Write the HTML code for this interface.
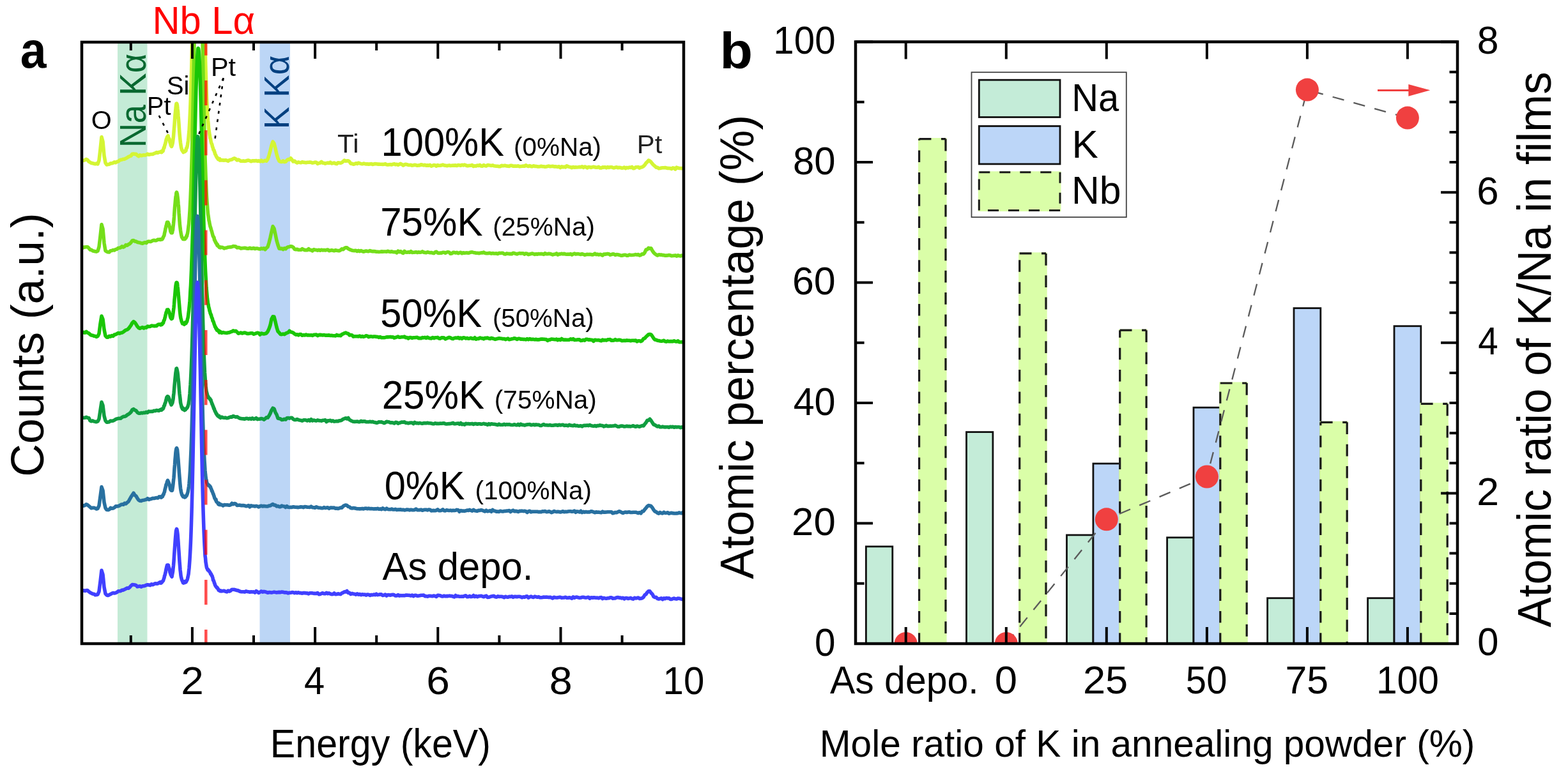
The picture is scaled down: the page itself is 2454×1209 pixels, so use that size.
<!DOCTYPE html>
<html><head><meta charset="utf-8"><title>Figure</title>
<style>
html,body{margin:0;padding:0;background:#fff;}
svg{display:block;}
text{font-family:"Liberation Sans",Arial,Helvetica,sans-serif;}
</style></head>
<body>
<svg width="2454" height="1209" viewBox="0 0 2454 1209">
<rect width="2454" height="1209" fill="#fff"/>
<rect x="184" y="66" width="46.5" height="942" fill="#c4ebd6"/>
<rect x="406.5" y="66" width="47.5" height="942" fill="#bcd6f6"/>
<defs><clipPath id="ca"><rect x="128" y="66" width="942" height="942"/></clipPath></defs>
<g clip-path="url(#ca)" fill="none" stroke-width="5.6" stroke-linejoin="round" stroke-linecap="round">
<path d="M127.0,250.8 L129.0,251.5 L131.0,251.2 L133.0,250.6 L135.0,249.4 L137.0,250.4 L139.0,253.0 L141.0,254.1 L143.0,255.5 L145.0,255.6 L147.0,256.3 L149.0,256.8 L151.0,256.0 L153.0,256.9 L155.0,251.2 L157.0,233.9 L159.0,214.5 L161.0,221.8 L163.0,243.7 L165.0,255.1 L167.0,257.9 L169.0,257.6 L171.0,257.3 L173.0,255.9 L175.0,255.8 L177.0,255.1 L179.0,253.8 L181.0,254.6 L183.0,253.2 L185.0,252.9 L187.0,251.1 L189.0,250.3 L191.0,249.9 L193.0,249.3 L195.0,249.1 L197.0,248.1 L199.0,246.9 L201.0,245.6 L203.0,244.7 L205.0,244.0 L207.0,241.2 L209.0,240.9 L211.0,241.4 L213.0,241.3 L215.0,243.4 L217.0,244.7 L219.0,242.8 L221.0,243.6 L223.0,243.4 L225.0,242.7 L227.0,243.1 L229.0,242.4 L231.0,241.1 L233.0,242.2 L235.0,241.7 L237.0,241.5 L239.0,241.4 L241.0,240.4 L243.0,239.9 L245.0,238.6 L247.0,239.4 L249.0,238.3 L251.0,238.1 L251.5,237.5 L252.0,237.6 L252.5,237.7 L253.0,238.6 L253.5,236.3 L254.0,236.3 L254.5,236.8 L255.0,236.8 L255.5,235.4 L256.0,232.8 L256.5,231.2 L257.0,231.4 L257.5,229.0 L258.0,226.8 L258.5,226.0 L259.0,223.9 L259.5,221.2 L260.0,219.2 L260.5,217.4 L261.0,216.5 L261.5,214.7 L262.0,213.9 L262.5,213.7 L263.0,212.6 L263.5,215.1 L264.0,216.0 L264.5,217.3 L265.0,217.6 L265.5,220.3 L266.0,223.2 L266.5,223.4 L267.0,226.0 L267.5,228.0 L268.0,227.5 L268.5,229.5 L269.0,228.4 L269.5,226.8 L270.0,225.0 L270.5,222.2 L271.0,218.0 L271.5,213.9 L272.0,207.2 L272.5,201.1 L273.0,195.3 L273.5,187.8 L274.0,180.5 L274.5,175.4 L275.0,170.5 L275.5,165.3 L276.0,162.2 L276.5,162.1 L277.0,162.9 L277.5,165.4 L278.0,170.5 L278.5,174.3 L279.0,181.9 L279.5,187.1 L280.0,194.3 L280.5,202.0 L281.0,208.8 L281.5,214.5 L282.0,219.3 L282.5,223.6 L283.0,227.2 L283.5,230.4 L284.0,232.2 L284.5,234.2 L285.0,235.6 L285.5,236.1 L286.0,237.2 L286.5,237.4 L287.0,238.5 L287.5,237.5 L288.0,237.0 L288.5,236.9 L289.0,236.9 L289.5,237.2 L290.0,236.0 L290.5,235.9 L291.0,236.0 L291.5,232.4 L292.0,232.1 L292.5,231.4 L293.0,229.5 L293.5,227.0 L294.0,223.6 L294.5,220.6 L295.0,215.8 L295.5,210.0 L296.0,205.3 L296.5,196.3 L297.0,186.7 L297.5,176.4 L298.0,164.2 L298.5,150.2 L299.0,132.7 L299.5,116.1 L300.0,96.9 L300.5,73.4 L301.0,49.7 L301.5,23.9 L302.0,-4.6 L302.5,-34.6 L303.0,-68.5 L303.5,-101.0 L304.0,-135.4 L304.5,-169.9 L305.0,-204.8 L305.5,-242.0 L306.0,-273.8 L306.5,-308.1 L307.0,-337.6 L307.5,-367.2 L308.0,-391.5 L308.5,-412.7 L309.0,-431.4 L309.5,-444.8 L310.0,-453.5 L310.5,-458.2 L311.0,-457.8 L311.5,-451.5 L312.0,-441.8 L312.5,-428.1 L313.0,-407.6 L313.5,-387.5 L314.0,-360.4 L314.5,-332.5 L315.0,-301.2 L315.5,-268.1 L316.0,-234.5 L316.5,-199.6 L317.0,-166.2 L317.5,-131.8 L318.0,-96.9 L318.5,-65.5 L319.0,-34.6 L319.5,-5.7 L320.0,23.1 L320.5,47.8 L321.0,71.2 L321.5,90.5 L322.0,109.6 L322.5,125.4 L323.0,141.1 L323.5,154.3 L324.0,163.8 L324.5,174.7 L325.0,182.4 L325.5,188.6 L326.0,193.4 L326.5,200.4 L327.0,203.8 L327.5,207.1 L328.0,210.8 L328.5,213.6 L329.0,216.7 L329.5,217.4 L330.0,220.8 L330.5,222.9 L331.0,224.8 L331.5,225.6 L332.0,226.9 L332.5,229.7 L333.0,230.7 L333.5,232.3 L334.0,234.6 L334.5,235.1 L335.0,235.3 L335.5,237.8 L336.0,238.2 L336.5,241.0 L337.0,241.9 L337.5,242.4 L338.0,243.7 L338.5,245.1 L339.0,245.5 L339.5,246.9 L340.0,246.8 L340.5,248.0 L341.0,248.8 L341.5,249.4 L342.0,248.4 L342.5,249.8 L343.0,248.5 L343.5,249.2 L344.0,249.0 L344.5,251.1 L345.0,249.9 L347.0,250.9 L349.0,250.9 L351.0,251.1 L353.0,250.8 L355.0,251.3 L357.0,252.1 L359.0,250.7 L361.0,250.3 L363.0,249.8 L365.0,248.5 L367.0,247.9 L369.0,249.0 L371.0,250.9 L373.0,250.1 L375.0,251.1 L377.0,252.3 L379.0,252.3 L381.0,251.9 L383.0,252.4 L385.0,252.1 L387.0,251.3 L389.0,251.1 L391.0,251.8 L393.0,252.7 L395.0,251.9 L397.0,251.7 L399.0,251.9 L401.0,251.5 L403.0,252.4 L405.0,251.8 L407.0,252.8 L409.0,251.2 L411.0,252.8 L413.0,252.3 L415.0,251.3 L417.0,252.2 L419.0,249.4 L421.0,243.3 L423.0,235.9 L425.0,227.7 L427.0,222.0 L429.0,224.7 L431.0,232.4 L433.0,241.5 L435.0,248.1 L437.0,252.2 L439.0,253.2 L441.0,253.5 L443.0,252.0 L445.0,253.6 L447.0,253.2 L449.0,251.1 L451.0,249.6 L453.0,250.0 L455.0,247.8 L457.0,250.3 L459.0,253.0 L461.0,252.2 L463.0,253.9 L465.0,255.0 L467.0,253.9 L469.0,254.4 L471.0,254.7 L473.0,253.6 L475.0,254.2 L477.0,254.4 L479.0,254.8 L481.0,254.3 L483.0,254.3 L485.0,253.9 L487.0,254.3 L489.0,255.1 L491.0,254.7 L493.0,254.1 L495.0,254.2 L497.0,256.4 L499.0,255.5 L501.0,255.2 L503.0,253.4 L505.0,255.3 L507.0,255.3 L509.0,256.1 L511.0,255.4 L513.0,255.1 L515.0,255.5 L517.0,254.1 L519.0,255.9 L521.0,255.5 L523.0,255.0 L525.0,256.2 L527.0,256.6 L529.0,254.7 L531.0,255.0 L533.0,255.3 L535.0,254.5 L537.0,252.9 L539.0,251.1 L541.0,252.2 L543.0,251.9 L545.0,251.8 L547.0,253.2 L549.0,256.2 L551.0,256.4 L553.0,257.2 L555.0,256.7 L557.0,255.7 L559.0,256.4 L561.0,255.0 L563.0,255.9 L565.0,256.4 L567.0,256.8 L569.0,256.1 L571.0,256.5 L573.0,256.9 L575.0,256.9 L577.0,257.1 L579.0,256.9 L581.0,256.6 L583.0,257.4 L585.0,257.0 L587.0,256.5 L589.0,256.7 L591.0,257.1 L593.0,257.1 L595.0,257.3 L597.0,257.2 L599.0,257.4 L601.0,257.3 L603.0,256.6 L605.0,257.7 L607.0,258.1 L609.0,257.8 L611.0,257.5 L613.0,257.9 L615.0,257.1 L617.0,256.6 L619.0,257.8 L621.0,257.3 L623.0,258.3 L625.0,257.3 L627.0,256.4 L629.0,257.4 L631.0,259.0 L633.0,257.8 L635.0,257.3 L637.0,257.7 L639.0,258.4 L641.0,258.5 L643.0,258.3 L645.0,259.1 L647.0,258.7 L649.0,258.2 L651.0,258.6 L653.0,259.3 L655.0,258.9 L657.0,259.0 L659.0,257.7 L661.0,258.3 L663.0,258.9 L665.0,258.3 L667.0,259.1 L669.0,258.9 L671.0,259.1 L673.0,258.4 L675.0,260.1 L677.0,259.4 L679.0,258.5 L681.0,258.7 L683.0,260.2 L685.0,258.5 L687.0,259.3 L689.0,259.3 L691.0,258.8 L693.0,258.1 L695.0,258.9 L697.0,259.1 L699.0,259.6 L701.0,259.4 L703.0,258.9 L705.0,259.5 L707.0,259.3 L709.0,259.1 L711.0,259.1 L713.0,258.9 L715.0,259.5 L717.0,258.5 L719.0,258.8 L721.0,259.2 L723.0,258.3 L725.0,258.9 L727.0,258.0 L729.0,258.8 L731.0,259.6 L733.0,259.6 L735.0,259.3 L737.0,259.2 L739.0,258.5 L741.0,260.5 L743.0,259.7 L745.0,260.1 L747.0,259.0 L749.0,259.4 L751.0,258.4 L753.0,260.0 L755.0,260.1 L757.0,258.5 L759.0,259.6 L761.0,260.0 L763.0,258.6 L765.0,258.6 L767.0,259.1 L769.0,259.4 L771.0,258.9 L773.0,259.8 L775.0,260.0 L777.0,260.2 L779.0,260.3 L781.0,260.8 L783.0,260.6 L785.0,259.2 L787.0,259.7 L789.0,259.4 L791.0,259.4 L793.0,260.0 L795.0,260.1 L797.0,260.4 L799.0,259.2 L801.0,259.4 L803.0,260.2 L805.0,260.1 L807.0,260.0 L809.0,260.2 L811.0,259.8 L813.0,260.7 L815.0,260.5 L817.0,260.3 L819.0,260.0 L821.0,260.3 L823.0,258.8 L825.0,259.9 L827.0,260.5 L829.0,259.6 L831.0,260.6 L833.0,260.6 L835.0,259.7 L837.0,260.5 L839.0,260.4 L841.0,260.9 L843.0,261.0 L845.0,260.7 L847.0,260.2 L849.0,260.7 L851.0,260.7 L853.0,261.2 L855.0,261.0 L857.0,260.4 L859.0,260.1 L861.0,260.7 L863.0,260.5 L865.0,260.3 L867.0,260.9 L869.0,260.7 L871.0,261.1 L873.0,261.4 L875.0,260.8 L877.0,262.5 L879.0,260.9 L881.0,261.8 L883.0,261.2 L885.0,261.9 L887.0,259.8 L889.0,260.8 L891.0,261.4 L893.0,261.7 L895.0,262.7 L897.0,261.5 L899.0,262.1 L901.0,261.9 L903.0,262.0 L905.0,261.8 L907.0,261.4 L909.0,261.8 L911.0,260.9 L913.0,262.3 L915.0,261.0 L917.0,261.7 L919.0,262.9 L921.0,261.5 L923.0,261.7 L925.0,262.4 L927.0,261.7 L929.0,261.3 L931.0,261.9 L933.0,262.1 L935.0,262.2 L937.0,261.4 L939.0,262.9 L941.0,262.9 L943.0,261.9 L945.0,262.1 L947.0,261.7 L949.0,262.8 L951.0,261.6 L953.0,262.4 L955.0,261.8 L957.0,261.7 L959.0,262.5 L961.0,262.9 L963.0,262.2 L965.0,261.8 L967.0,262.7 L969.0,262.2 L971.0,262.5 L973.0,263.2 L975.0,263.0 L977.0,262.0 L979.0,263.7 L981.0,262.4 L983.0,262.9 L985.0,262.1 L987.0,262.4 L989.0,261.4 L991.0,263.6 L993.0,263.4 L995.0,261.8 L997.0,261.7 L999.0,261.6 L1001.0,263.2 L1003.0,262.0 L1005.0,261.7 L1007.0,260.4 L1009.0,258.5 L1011.0,255.4 L1013.0,253.6 L1015.0,251.2 L1017.0,252.0 L1019.0,253.9 L1021.0,256.5 L1023.0,258.6 L1025.0,260.2 L1027.0,262.1 L1029.0,262.3 L1031.0,263.8 L1033.0,263.5 L1035.0,263.0 L1037.0,262.8 L1039.0,262.7 L1041.0,262.6 L1043.0,263.0 L1045.0,263.4 L1047.0,263.5 L1049.0,263.6 L1051.0,264.5 L1053.0,262.9 L1055.0,263.3 L1057.0,265.0 L1059.0,262.2 L1061.0,263.1 L1063.0,263.5 L1065.0,263.5 L1067.0,263.7 L1069.0,263.3 L1071.0,263.7" stroke="#d4f534"/>
<path d="M127.0,387.8 L129.0,388.5 L131.0,387.0 L133.0,387.1 L135.0,386.8 L137.0,386.7 L139.0,388.5 L141.0,391.1 L143.0,391.3 L145.0,392.7 L147.0,393.3 L149.0,393.7 L151.0,394.1 L153.0,393.1 L155.0,386.7 L157.0,369.8 L159.0,351.6 L161.0,358.5 L163.0,380.6 L165.0,392.6 L167.0,394.0 L169.0,394.8 L171.0,394.9 L173.0,392.7 L175.0,392.5 L177.0,391.6 L179.0,391.9 L181.0,390.5 L183.0,390.2 L185.0,388.5 L187.0,388.3 L189.0,387.6 L191.0,385.8 L193.0,387.1 L195.0,386.0 L197.0,383.7 L199.0,384.3 L201.0,382.8 L203.0,381.7 L205.0,379.7 L207.0,376.7 L209.0,376.5 L211.0,377.9 L213.0,378.1 L215.0,379.2 L217.0,379.8 L219.0,380.1 L221.0,380.8 L223.0,381.3 L225.0,380.2 L227.0,379.7 L229.0,380.5 L231.0,378.5 L233.0,378.1 L235.0,378.4 L237.0,378.0 L239.0,376.7 L241.0,376.3 L243.0,376.8 L245.0,376.4 L247.0,375.1 L249.0,375.3 L251.0,374.8 L251.5,375.4 L252.0,374.9 L252.5,374.8 L253.0,374.4 L253.5,374.9 L254.0,374.7 L254.5,373.0 L255.0,373.0 L255.5,371.1 L256.0,370.5 L256.5,369.5 L257.0,368.3 L257.5,365.2 L258.0,363.3 L258.5,361.3 L259.0,357.9 L259.5,356.5 L260.0,353.8 L260.5,352.5 L261.0,349.9 L261.5,348.0 L262.0,348.4 L262.5,348.3 L263.0,348.1 L263.5,349.7 L264.0,350.3 L264.5,351.7 L265.0,354.3 L265.5,355.2 L266.0,357.8 L266.5,360.3 L267.0,362.6 L267.5,363.5 L268.0,364.7 L268.5,364.5 L269.0,364.8 L269.5,364.6 L270.0,361.3 L270.5,360.3 L271.0,354.8 L271.5,350.6 L272.0,345.2 L272.5,339.7 L273.0,331.8 L273.5,324.6 L274.0,319.7 L274.5,313.8 L275.0,308.6 L275.5,305.9 L276.0,301.9 L276.5,301.1 L277.0,302.4 L277.5,304.5 L278.0,309.2 L278.5,312.6 L279.0,319.2 L279.5,323.9 L280.0,333.2 L280.5,339.2 L281.0,346.3 L281.5,352.7 L282.0,356.4 L282.5,360.6 L283.0,363.9 L283.5,366.6 L284.0,368.9 L284.5,371.3 L285.0,372.1 L285.5,373.0 L286.0,373.4 L286.5,374.5 L287.0,374.4 L287.5,374.1 L288.0,374.6 L288.5,374.0 L289.0,373.2 L289.5,374.4 L290.0,373.4 L290.5,372.1 L291.0,372.7 L291.5,371.4 L292.0,369.2 L292.5,369.8 L293.0,367.3 L293.5,365.6 L294.0,362.6 L294.5,359.2 L295.0,354.5 L295.5,351.3 L296.0,345.2 L296.5,338.5 L297.0,331.2 L297.5,322.0 L298.0,312.1 L298.5,299.6 L299.0,286.5 L299.5,270.2 L300.0,254.4 L300.5,236.7 L301.0,217.0 L301.5,194.2 L302.0,171.0 L302.5,147.2 L303.0,120.0 L303.5,93.6 L304.0,66.4 L304.5,37.4 L305.0,10.0 L305.5,-18.9 L306.0,-45.2 L306.5,-71.0 L307.0,-94.7 L307.5,-115.8 L308.0,-134.2 L308.5,-152.2 L309.0,-165.1 L309.5,-173.9 L310.0,-180.6 L310.5,-181.6 L311.0,-179.6 L311.5,-174.3 L312.0,-164.3 L312.5,-152.6 L313.0,-135.1 L313.5,-117.4 L314.0,-95.3 L314.5,-71.5 L315.0,-46.0 L315.5,-18.7 L316.0,8.2 L316.5,35.6 L317.0,63.8 L317.5,91.6 L318.0,117.1 L318.5,142.6 L319.0,167.1 L319.5,189.1 L320.0,209.0 L320.5,230.5 L321.0,247.7 L321.5,260.9 L322.0,276.0 L322.5,288.6 L323.0,299.7 L323.5,308.9 L324.0,316.4 L324.5,322.8 L325.0,329.4 L325.5,335.0 L326.0,337.9 L326.5,341.6 L327.0,345.3 L327.5,346.9 L328.0,350.2 L328.5,352.3 L329.0,354.7 L329.5,355.9 L330.0,357.5 L330.5,359.5 L331.0,361.3 L331.5,362.6 L332.0,364.6 L332.5,366.6 L333.0,368.4 L333.5,370.2 L334.0,370.2 L334.5,371.9 L335.0,372.1 L335.5,376.0 L336.0,375.7 L336.5,377.4 L337.0,378.8 L337.5,378.7 L338.0,380.8 L338.5,381.4 L339.0,381.1 L339.5,383.1 L340.0,384.3 L340.5,383.1 L341.0,385.2 L341.5,385.3 L342.0,385.9 L342.5,386.3 L343.0,387.2 L343.5,386.6 L344.0,387.5 L344.5,387.0 L345.0,387.9 L347.0,387.2 L349.0,387.8 L351.0,389.0 L353.0,388.2 L355.0,387.9 L357.0,387.2 L359.0,387.0 L361.0,386.9 L363.0,386.5 L365.0,385.6 L367.0,385.8 L369.0,386.1 L371.0,387.9 L373.0,387.6 L375.0,388.0 L377.0,389.1 L379.0,388.7 L381.0,388.5 L383.0,388.4 L385.0,388.6 L387.0,389.2 L389.0,389.1 L391.0,388.2 L393.0,389.2 L395.0,389.1 L397.0,388.5 L399.0,389.6 L401.0,389.0 L403.0,389.0 L405.0,389.8 L407.0,390.1 L409.0,389.0 L411.0,389.7 L413.0,388.9 L415.0,390.7 L417.0,388.2 L419.0,386.8 L421.0,380.2 L423.0,372.2 L425.0,363.1 L427.0,354.6 L429.0,357.9 L431.0,367.0 L433.0,376.7 L435.0,383.8 L437.0,389.3 L439.0,389.6 L441.0,389.0 L443.0,390.6 L445.0,388.8 L447.0,389.9 L449.0,387.7 L451.0,386.7 L453.0,386.4 L455.0,385.7 L457.0,386.0 L459.0,387.3 L461.0,390.3 L463.0,390.8 L465.0,390.2 L467.0,391.3 L469.0,391.2 L471.0,391.3 L473.0,389.6 L475.0,390.8 L477.0,391.6 L479.0,391.6 L481.0,391.7 L483.0,389.7 L485.0,391.4 L487.0,391.6 L489.0,392.9 L491.0,390.8 L493.0,391.3 L495.0,391.5 L497.0,392.1 L499.0,391.3 L501.0,392.3 L503.0,391.2 L505.0,391.9 L507.0,391.5 L509.0,392.0 L511.0,391.5 L513.0,391.0 L515.0,392.7 L517.0,392.2 L519.0,391.8 L521.0,392.3 L523.0,392.8 L525.0,391.7 L527.0,392.2 L529.0,392.6 L531.0,392.6 L533.0,391.7 L535.0,389.9 L537.0,390.6 L539.0,388.7 L541.0,387.7 L543.0,387.9 L545.0,389.5 L547.0,390.6 L549.0,391.4 L551.0,392.2 L553.0,392.5 L555.0,392.6 L557.0,392.3 L559.0,393.5 L561.0,392.4 L563.0,393.6 L565.0,392.6 L567.0,393.5 L569.0,394.2 L571.0,393.5 L573.0,393.0 L575.0,393.5 L577.0,393.6 L579.0,392.5 L581.0,393.3 L583.0,393.8 L585.0,393.5 L587.0,393.8 L589.0,394.3 L591.0,394.3 L593.0,394.5 L595.0,394.3 L597.0,393.9 L599.0,394.1 L601.0,394.0 L603.0,394.0 L605.0,394.1 L607.0,393.2 L609.0,394.1 L611.0,394.4 L613.0,393.8 L615.0,394.5 L617.0,394.8 L619.0,394.5 L621.0,395.9 L623.0,393.1 L625.0,394.6 L627.0,393.7 L629.0,395.4 L631.0,396.4 L633.0,393.4 L635.0,395.0 L637.0,395.2 L639.0,394.8 L641.0,395.3 L643.0,393.6 L645.0,395.5 L647.0,395.3 L649.0,395.1 L651.0,394.7 L653.0,395.5 L655.0,394.8 L657.0,395.3 L659.0,394.9 L661.0,393.9 L663.0,395.2 L665.0,395.4 L667.0,395.7 L669.0,394.8 L671.0,395.3 L673.0,395.7 L675.0,395.5 L677.0,396.2 L679.0,396.6 L681.0,394.9 L683.0,394.3 L685.0,396.0 L687.0,396.5 L689.0,396.1 L691.0,396.1 L693.0,395.2 L695.0,395.2 L697.0,396.2 L699.0,395.1 L701.0,394.6 L703.0,395.1 L705.0,397.3 L707.0,396.9 L709.0,395.4 L711.0,395.4 L713.0,396.0 L715.0,395.4 L717.0,396.7 L719.0,395.9 L721.0,395.3 L723.0,396.8 L725.0,395.7 L727.0,396.2 L729.0,396.0 L731.0,395.9 L733.0,396.3 L735.0,395.7 L737.0,395.0 L739.0,394.9 L741.0,395.4 L743.0,395.8 L745.0,396.2 L747.0,396.3 L749.0,396.6 L751.0,396.4 L753.0,395.9 L755.0,396.0 L757.0,395.1 L759.0,396.3 L761.0,396.7 L763.0,396.8 L765.0,396.4 L767.0,396.4 L769.0,397.1 L771.0,396.6 L773.0,397.0 L775.0,397.0 L777.0,396.8 L779.0,397.5 L781.0,396.4 L783.0,396.5 L785.0,396.3 L787.0,396.3 L789.0,397.7 L791.0,397.9 L793.0,396.9 L795.0,397.2 L797.0,397.6 L799.0,397.4 L801.0,397.7 L803.0,396.2 L805.0,396.6 L807.0,397.3 L809.0,397.9 L811.0,397.1 L813.0,396.6 L815.0,396.9 L817.0,396.8 L819.0,396.7 L821.0,398.1 L823.0,396.9 L825.0,397.3 L827.0,398.6 L829.0,398.0 L831.0,397.5 L833.0,397.0 L835.0,397.6 L837.0,398.4 L839.0,397.8 L841.0,398.2 L843.0,397.5 L845.0,397.8 L847.0,397.4 L849.0,397.8 L851.0,398.4 L853.0,396.7 L855.0,397.6 L857.0,397.8 L859.0,397.3 L861.0,397.5 L863.0,398.2 L865.0,399.0 L867.0,398.2 L869.0,398.0 L871.0,396.9 L873.0,399.0 L875.0,397.9 L877.0,397.9 L879.0,397.3 L881.0,397.9 L883.0,397.3 L885.0,398.0 L887.0,398.3 L889.0,398.1 L891.0,398.2 L893.0,397.6 L895.0,399.0 L897.0,397.8 L899.0,397.1 L901.0,398.1 L903.0,397.8 L905.0,397.6 L907.0,398.1 L909.0,398.5 L911.0,397.6 L913.0,398.3 L915.0,399.2 L917.0,398.8 L919.0,398.3 L921.0,398.5 L923.0,398.4 L925.0,398.5 L927.0,399.0 L929.0,398.5 L931.0,397.1 L933.0,398.6 L935.0,398.1 L937.0,399.0 L939.0,398.3 L941.0,398.8 L943.0,400.0 L945.0,398.1 L947.0,398.1 L949.0,397.9 L951.0,397.4 L953.0,397.7 L955.0,399.1 L957.0,398.5 L959.0,397.8 L961.0,398.1 L963.0,399.3 L965.0,398.5 L967.0,398.8 L969.0,399.2 L971.0,399.9 L973.0,400.3 L975.0,399.7 L977.0,399.2 L979.0,399.3 L981.0,400.3 L983.0,400.1 L985.0,399.1 L987.0,399.5 L989.0,399.5 L991.0,399.3 L993.0,399.0 L995.0,398.6 L997.0,399.1 L999.0,398.5 L1001.0,400.0 L1003.0,399.4 L1005.0,397.7 L1007.0,398.0 L1009.0,395.6 L1011.0,391.1 L1013.0,390.7 L1015.0,388.3 L1017.0,389.1 L1019.0,388.9 L1021.0,392.7 L1023.0,395.5 L1025.0,397.5 L1027.0,398.8 L1029.0,400.0 L1031.0,398.8 L1033.0,399.1 L1035.0,399.0 L1037.0,399.6 L1039.0,399.6 L1041.0,400.2 L1043.0,400.1 L1045.0,400.0 L1047.0,399.6 L1049.0,399.8 L1051.0,400.6 L1053.0,400.5 L1055.0,400.2 L1057.0,399.9 L1059.0,401.1 L1061.0,399.8 L1063.0,400.6 L1065.0,400.9 L1067.0,400.1 L1069.0,400.8 L1071.0,399.6" stroke="#74de1a"/>
<path d="M127.0,521.6 L129.0,521.3 L131.0,520.4 L133.0,521.2 L135.0,519.4 L137.0,521.2 L139.0,521.9 L141.0,523.8 L143.0,525.0 L145.0,525.3 L147.0,526.3 L149.0,526.4 L151.0,527.4 L153.0,526.5 L155.0,522.4 L157.0,506.9 L159.0,495.0 L161.0,500.1 L163.0,516.0 L165.0,525.9 L167.0,528.1 L169.0,528.3 L171.0,526.3 L173.0,527.2 L175.0,525.5 L177.0,526.3 L179.0,524.1 L181.0,523.9 L183.0,522.6 L185.0,521.5 L187.0,522.1 L189.0,521.3 L191.0,521.0 L193.0,519.9 L195.0,518.3 L197.0,516.9 L199.0,516.4 L201.0,514.8 L203.0,512.2 L205.0,509.4 L207.0,505.7 L209.0,503.6 L211.0,505.0 L213.0,507.9 L215.0,511.2 L217.0,513.5 L219.0,514.3 L221.0,513.3 L223.0,512.6 L225.0,514.0 L227.0,512.8 L229.0,513.1 L231.0,511.0 L233.0,511.5 L235.0,511.3 L237.0,510.0 L239.0,510.2 L241.0,510.6 L243.0,510.4 L245.0,510.4 L247.0,508.5 L249.0,507.8 L251.0,508.7 L251.5,508.9 L252.0,508.3 L252.5,507.3 L253.0,508.3 L253.5,508.1 L254.0,507.5 L254.5,506.4 L255.0,506.2 L255.5,505.7 L256.0,503.8 L256.5,501.8 L257.0,501.6 L257.5,500.0 L258.0,497.9 L258.5,496.4 L259.0,493.5 L259.5,491.7 L260.0,489.6 L260.5,488.3 L261.0,487.4 L261.5,485.2 L262.0,485.8 L262.5,485.3 L263.0,485.0 L263.5,485.6 L264.0,487.4 L264.5,487.7 L265.0,489.5 L265.5,490.8 L266.0,493.6 L266.5,495.9 L267.0,497.1 L267.5,498.3 L268.0,498.8 L268.5,499.4 L269.0,498.1 L269.5,498.7 L270.0,496.1 L270.5,493.2 L271.0,490.1 L271.5,485.9 L272.0,482.1 L272.5,476.8 L273.0,469.5 L273.5,464.9 L274.0,459.1 L274.5,452.9 L275.0,447.7 L275.5,444.7 L276.0,442.5 L276.5,442.4 L277.0,442.7 L277.5,443.9 L278.0,448.8 L278.5,452.3 L279.0,459.1 L279.5,463.7 L280.0,470.1 L280.5,475.9 L281.0,481.7 L281.5,487.9 L282.0,492.1 L282.5,495.8 L283.0,498.8 L283.5,500.2 L284.0,502.7 L284.5,504.2 L285.0,505.0 L285.5,506.7 L286.0,506.4 L286.5,506.8 L287.0,506.8 L287.5,506.2 L288.0,507.8 L288.5,508.1 L289.0,507.3 L289.5,506.3 L290.0,504.9 L290.5,506.3 L291.0,506.4 L291.5,505.1 L292.0,504.6 L292.5,503.8 L293.0,502.1 L293.5,499.4 L294.0,498.1 L294.5,495.3 L295.0,490.7 L295.5,487.5 L296.0,482.3 L296.5,477.6 L297.0,471.7 L297.5,463.3 L298.0,454.2 L298.5,446.6 L299.0,435.1 L299.5,423.5 L300.0,408.3 L300.5,394.9 L301.0,379.4 L301.5,361.9 L302.0,341.9 L302.5,322.5 L303.0,301.7 L303.5,281.1 L304.0,259.4 L304.5,237.0 L305.0,214.3 L305.5,194.3 L306.0,173.0 L306.5,154.3 L307.0,136.2 L307.5,120.9 L308.0,106.6 L308.5,94.0 L309.0,85.5 L309.5,80.2 L310.0,75.5 L310.5,75.9 L311.0,79.0 L311.5,84.7 L312.0,92.8 L312.5,102.8 L313.0,116.3 L313.5,132.9 L314.0,150.5 L314.5,170.7 L315.0,188.8 L315.5,210.9 L316.0,232.1 L316.5,252.1 L317.0,273.9 L317.5,295.3 L318.0,315.0 L318.5,334.4 L319.0,352.8 L319.5,368.9 L320.0,385.1 L320.5,398.6 L321.0,411.5 L321.5,423.5 L322.0,433.0 L322.5,442.3 L323.0,450.8 L323.5,456.5 L324.0,462.1 L324.5,467.4 L325.0,470.8 L325.5,475.2 L326.0,476.7 L326.5,480.4 L327.0,481.9 L327.5,483.7 L328.0,487.0 L328.5,487.1 L329.0,490.2 L329.5,491.0 L330.0,493.0 L330.5,493.0 L331.0,495.8 L331.5,497.4 L332.0,498.0 L332.5,499.5 L333.0,502.5 L333.5,502.6 L334.0,503.7 L334.5,505.0 L335.0,507.1 L335.5,508.3 L336.0,509.5 L336.5,511.6 L337.0,511.5 L337.5,513.0 L338.0,514.6 L338.5,514.0 L339.0,516.0 L339.5,517.2 L340.0,516.0 L340.5,516.7 L341.0,517.3 L341.5,517.3 L342.0,519.1 L342.5,518.1 L343.0,519.9 L343.5,520.8 L344.0,519.2 L344.5,520.2 L345.0,519.5 L347.0,521.4 L349.0,520.6 L351.0,521.0 L353.0,521.2 L355.0,521.5 L357.0,520.9 L359.0,520.7 L361.0,519.7 L363.0,519.3 L365.0,517.9 L367.0,518.7 L369.0,518.2 L371.0,520.0 L373.0,522.2 L375.0,521.6 L377.0,521.0 L379.0,522.0 L381.0,521.3 L383.0,521.0 L385.0,521.6 L387.0,522.5 L389.0,522.4 L391.0,522.1 L393.0,521.7 L395.0,521.7 L397.0,523.2 L399.0,522.6 L401.0,521.9 L403.0,521.2 L405.0,521.7 L407.0,524.1 L409.0,522.0 L411.0,522.7 L413.0,522.9 L415.0,522.5 L417.0,521.8 L419.0,519.2 L421.0,514.9 L423.0,509.2 L425.0,499.6 L427.0,495.9 L429.0,496.1 L431.0,504.0 L433.0,512.6 L435.0,519.1 L437.0,521.1 L439.0,523.4 L441.0,523.6 L443.0,523.0 L445.0,523.6 L447.0,522.3 L449.0,521.4 L451.0,520.7 L453.0,518.3 L455.0,519.9 L457.0,520.3 L459.0,521.3 L461.0,522.9 L463.0,524.2 L465.0,523.8 L467.0,524.9 L469.0,523.5 L471.0,523.5 L473.0,525.3 L475.0,524.6 L477.0,525.0 L479.0,524.0 L481.0,525.0 L483.0,524.8 L485.0,525.0 L487.0,524.7 L489.0,525.5 L491.0,524.4 L493.0,524.3 L495.0,524.0 L497.0,525.7 L499.0,524.6 L501.0,524.4 L503.0,524.6 L505.0,524.9 L507.0,524.5 L509.0,525.1 L511.0,525.0 L513.0,525.1 L515.0,524.9 L517.0,525.5 L519.0,525.3 L521.0,525.7 L523.0,525.8 L525.0,525.9 L527.0,524.4 L529.0,525.4 L531.0,525.2 L533.0,525.8 L535.0,523.7 L537.0,522.9 L539.0,521.8 L541.0,521.0 L543.0,522.1 L545.0,522.5 L547.0,524.9 L549.0,524.6 L551.0,525.0 L553.0,527.1 L555.0,526.7 L557.0,526.8 L559.0,526.7 L561.0,526.9 L563.0,526.0 L565.0,527.3 L567.0,526.5 L569.0,527.4 L571.0,526.9 L573.0,525.8 L575.0,526.2 L577.0,527.7 L579.0,527.0 L581.0,526.9 L583.0,527.4 L585.0,527.0 L587.0,527.0 L589.0,527.4 L591.0,527.5 L593.0,528.4 L595.0,527.6 L597.0,528.7 L599.0,528.7 L601.0,528.7 L603.0,528.4 L605.0,527.9 L607.0,527.9 L609.0,527.8 L611.0,527.5 L613.0,528.0 L615.0,527.7 L617.0,529.1 L619.0,528.5 L621.0,527.9 L623.0,527.1 L625.0,528.3 L627.0,528.1 L629.0,527.7 L631.0,527.7 L633.0,527.1 L635.0,528.8 L637.0,528.5 L639.0,530.1 L641.0,528.5 L643.0,528.5 L645.0,529.5 L647.0,528.7 L649.0,528.8 L651.0,528.5 L653.0,528.4 L655.0,529.7 L657.0,529.4 L659.0,529.8 L661.0,528.6 L663.0,528.9 L665.0,528.4 L667.0,529.5 L669.0,528.1 L671.0,529.3 L673.0,529.7 L675.0,529.9 L677.0,528.5 L679.0,529.7 L681.0,528.7 L683.0,528.7 L685.0,528.4 L687.0,529.9 L689.0,530.2 L691.0,528.9 L693.0,528.8 L695.0,529.1 L697.0,530.8 L699.0,530.0 L701.0,529.1 L703.0,528.3 L705.0,529.0 L707.0,530.2 L709.0,530.6 L711.0,529.4 L713.0,529.1 L715.0,529.3 L717.0,528.5 L719.0,530.2 L721.0,529.0 L723.0,530.3 L725.0,528.7 L727.0,529.0 L729.0,530.0 L731.0,529.4 L733.0,530.3 L735.0,529.9 L737.0,529.2 L739.0,530.3 L741.0,530.5 L743.0,528.8 L745.0,531.1 L747.0,530.3 L749.0,530.5 L751.0,529.0 L753.0,529.7 L755.0,529.9 L757.0,530.8 L759.0,529.3 L761.0,529.7 L763.0,529.0 L765.0,530.1 L767.0,530.5 L769.0,529.3 L771.0,530.0 L773.0,530.7 L775.0,531.4 L777.0,530.8 L779.0,530.3 L781.0,529.8 L783.0,530.0 L785.0,530.2 L787.0,530.7 L789.0,530.6 L791.0,531.6 L793.0,530.8 L795.0,530.1 L797.0,531.7 L799.0,531.3 L801.0,530.8 L803.0,530.4 L805.0,529.7 L807.0,530.2 L809.0,531.4 L811.0,530.4 L813.0,530.2 L815.0,531.1 L817.0,531.1 L819.0,531.4 L821.0,531.4 L823.0,531.9 L825.0,530.6 L827.0,531.7 L829.0,530.6 L831.0,531.6 L833.0,531.3 L835.0,531.4 L837.0,531.9 L839.0,531.3 L841.0,532.0 L843.0,531.9 L845.0,531.5 L847.0,531.1 L849.0,531.0 L851.0,531.2 L853.0,531.4 L855.0,531.5 L857.0,533.3 L859.0,532.0 L861.0,532.1 L863.0,531.1 L865.0,531.2 L867.0,531.5 L869.0,531.8 L871.0,531.1 L873.0,532.7 L875.0,531.5 L877.0,532.5 L879.0,530.5 L881.0,531.9 L883.0,532.1 L885.0,532.1 L887.0,532.3 L889.0,532.2 L891.0,532.1 L893.0,530.9 L895.0,531.7 L897.0,530.7 L899.0,532.5 L901.0,532.3 L903.0,532.1 L905.0,531.7 L907.0,531.9 L909.0,533.4 L911.0,533.3 L913.0,532.3 L915.0,533.1 L917.0,531.4 L919.0,531.3 L921.0,532.1 L923.0,531.9 L925.0,532.2 L927.0,532.6 L929.0,534.4 L931.0,532.2 L933.0,532.6 L935.0,532.8 L937.0,532.6 L939.0,533.2 L941.0,533.8 L943.0,532.0 L945.0,532.9 L947.0,532.6 L949.0,533.0 L951.0,531.9 L953.0,531.8 L955.0,531.5 L957.0,533.3 L959.0,533.1 L961.0,533.0 L963.0,531.6 L965.0,532.8 L967.0,532.6 L969.0,532.3 L971.0,532.6 L973.0,533.6 L975.0,533.5 L977.0,533.2 L979.0,533.5 L981.0,532.9 L983.0,533.3 L985.0,533.3 L987.0,533.7 L989.0,533.3 L991.0,533.3 L993.0,533.4 L995.0,533.1 L997.0,534.8 L999.0,533.8 L1001.0,533.7 L1003.0,534.6 L1005.0,533.5 L1007.0,530.5 L1009.0,529.9 L1011.0,527.5 L1013.0,525.7 L1015.0,523.7 L1017.0,523.4 L1019.0,523.9 L1021.0,526.6 L1023.0,529.9 L1025.0,532.0 L1027.0,532.3 L1029.0,533.3 L1031.0,533.6 L1033.0,534.0 L1035.0,534.2 L1037.0,533.9 L1039.0,533.3 L1041.0,534.8 L1043.0,535.1 L1045.0,534.1 L1047.0,534.8 L1049.0,534.5 L1051.0,534.6 L1053.0,534.6 L1055.0,533.8 L1057.0,534.7 L1059.0,535.0 L1061.0,533.8 L1063.0,535.6 L1065.0,535.7 L1067.0,535.6 L1069.0,535.7 L1071.0,534.9" stroke="#1ac606"/>
<path d="M127.0,654.2 L129.0,654.2 L131.0,654.3 L133.0,654.3 L135.0,653.4 L137.0,654.3 L139.0,654.5 L141.0,658.7 L143.0,659.6 L145.0,658.9 L147.0,659.9 L149.0,660.4 L151.0,660.6 L153.0,659.9 L155.0,655.9 L157.0,642.6 L159.0,629.8 L161.0,635.1 L163.0,651.3 L165.0,658.9 L167.0,661.2 L169.0,661.1 L171.0,660.7 L173.0,659.0 L175.0,659.2 L177.0,658.9 L179.0,658.0 L181.0,656.7 L183.0,655.9 L185.0,655.4 L187.0,655.3 L189.0,655.1 L191.0,653.4 L193.0,652.4 L195.0,652.3 L197.0,651.5 L199.0,649.8 L201.0,648.7 L203.0,647.3 L205.0,645.3 L207.0,641.7 L209.0,640.6 L211.0,642.2 L213.0,643.1 L215.0,645.9 L217.0,647.2 L219.0,647.2 L221.0,646.6 L223.0,646.9 L225.0,646.3 L227.0,646.4 L229.0,645.3 L231.0,646.1 L233.0,644.1 L235.0,644.6 L237.0,644.3 L239.0,644.5 L241.0,643.2 L243.0,643.5 L245.0,642.5 L247.0,642.9 L249.0,643.1 L251.0,641.6 L251.5,642.0 L252.0,641.1 L252.5,642.1 L253.0,642.1 L253.5,641.1 L254.0,640.1 L254.5,640.5 L255.0,640.4 L255.5,639.6 L256.0,638.6 L256.5,635.9 L257.0,635.3 L257.5,635.1 L258.0,631.9 L258.5,631.5 L259.0,630.2 L259.5,627.7 L260.0,626.2 L260.5,623.7 L261.0,621.9 L261.5,621.5 L262.0,620.8 L262.5,620.7 L263.0,621.4 L263.5,621.5 L264.0,622.6 L264.5,624.1 L265.0,625.3 L265.5,628.0 L266.0,628.8 L266.5,630.2 L267.0,631.4 L267.5,632.2 L268.0,634.1 L268.5,633.5 L269.0,632.4 L269.5,631.7 L270.0,630.3 L270.5,627.6 L271.0,625.2 L271.5,619.9 L272.0,616.1 L272.5,610.7 L273.0,604.2 L273.5,599.1 L274.0,593.4 L274.5,588.6 L275.0,583.6 L275.5,580.6 L276.0,577.3 L276.5,576.9 L277.0,578.8 L277.5,581.1 L278.0,583.8 L278.5,587.9 L279.0,594.2 L279.5,597.9 L280.0,604.6 L280.5,611.2 L281.0,616.6 L281.5,620.6 L282.0,624.4 L282.5,630.1 L283.0,632.4 L283.5,634.2 L284.0,636.7 L284.5,638.6 L285.0,637.6 L285.5,640.6 L286.0,640.9 L286.5,639.5 L287.0,641.4 L287.5,640.0 L288.0,641.9 L288.5,641.4 L289.0,642.5 L289.5,640.7 L290.0,640.9 L290.5,641.4 L291.0,640.2 L291.5,639.9 L292.0,639.6 L292.5,639.2 L293.0,637.9 L293.5,637.8 L294.0,636.5 L294.5,634.4 L295.0,633.2 L295.5,629.2 L296.0,626.8 L296.5,621.4 L297.0,617.0 L297.5,609.2 L298.0,603.0 L298.5,594.1 L299.0,583.7 L299.5,571.9 L300.0,558.6 L300.5,543.4 L301.0,525.8 L301.5,508.4 L302.0,488.4 L302.5,467.0 L303.0,444.1 L303.5,421.0 L304.0,397.3 L304.5,372.2 L305.0,347.7 L305.5,325.1 L306.0,302.3 L306.5,281.4 L307.0,262.7 L307.5,245.6 L308.0,232.5 L308.5,223.4 L309.0,216.0 L309.5,213.7 L310.0,215.2 L310.5,220.1 L311.0,228.4 L311.5,241.2 L312.0,255.6 L312.5,274.0 L313.0,294.3 L313.5,316.0 L314.0,339.2 L314.5,362.1 L315.0,386.3 L315.5,410.8 L316.0,435.1 L316.5,458.4 L317.0,478.2 L317.5,499.1 L318.0,516.8 L318.5,533.5 L319.0,548.7 L319.5,562.4 L320.0,573.6 L320.5,583.9 L321.0,590.9 L321.5,598.8 L322.0,604.5 L322.5,608.5 L323.0,612.3 L323.5,614.5 L324.0,616.3 L324.5,618.3 L325.0,619.4 L325.5,622.5 L326.0,621.2 L326.5,623.1 L327.0,622.8 L327.5,623.5 L328.0,624.4 L328.5,624.1 L329.0,625.9 L329.5,626.5 L330.0,626.3 L330.5,628.7 L331.0,629.8 L331.5,631.0 L332.0,633.0 L332.5,633.1 L333.0,635.1 L333.5,636.6 L334.0,637.0 L334.5,639.7 L335.0,639.4 L335.5,640.8 L336.0,643.1 L336.5,643.4 L337.0,645.1 L337.5,645.2 L338.0,647.2 L338.5,647.3 L339.0,649.0 L339.5,648.6 L340.0,650.5 L340.5,650.6 L341.0,651.4 L341.5,651.8 L342.0,652.3 L342.5,651.8 L343.0,651.4 L343.5,653.3 L344.0,653.0 L344.5,653.5 L345.0,654.3 L347.0,653.1 L349.0,654.0 L351.0,654.2 L353.0,654.0 L355.0,654.8 L357.0,654.4 L359.0,653.6 L361.0,652.9 L363.0,653.1 L365.0,651.6 L367.0,652.4 L369.0,653.1 L371.0,652.6 L373.0,653.9 L375.0,655.0 L377.0,655.4 L379.0,655.8 L381.0,655.9 L383.0,656.1 L385.0,655.3 L387.0,655.4 L389.0,656.1 L391.0,655.4 L393.0,656.3 L395.0,654.8 L397.0,656.2 L399.0,655.8 L401.0,654.7 L403.0,656.6 L405.0,656.2 L407.0,656.1 L409.0,655.5 L411.0,655.9 L413.0,657.1 L415.0,655.7 L417.0,653.7 L419.0,654.1 L421.0,651.2 L423.0,647.4 L425.0,642.4 L427.0,639.2 L429.0,640.3 L431.0,645.8 L433.0,649.3 L435.0,655.1 L437.0,655.6 L439.0,656.0 L441.0,657.4 L443.0,657.3 L445.0,656.3 L447.0,657.0 L449.0,654.8 L451.0,654.5 L453.0,655.1 L455.0,654.4 L457.0,654.4 L459.0,656.5 L461.0,657.5 L463.0,657.4 L465.0,656.5 L467.0,657.5 L469.0,658.0 L471.0,658.3 L473.0,659.0 L475.0,657.8 L477.0,657.7 L479.0,658.0 L481.0,658.9 L483.0,657.6 L485.0,659.0 L487.0,656.6 L489.0,658.8 L491.0,658.0 L493.0,658.7 L495.0,658.9 L497.0,657.9 L499.0,658.6 L501.0,658.8 L503.0,659.1 L505.0,658.2 L507.0,658.2 L509.0,657.7 L511.0,660.5 L513.0,658.9 L515.0,658.9 L517.0,658.2 L519.0,659.7 L521.0,658.9 L523.0,660.1 L525.0,659.8 L527.0,659.4 L529.0,659.8 L531.0,658.7 L533.0,658.8 L535.0,657.9 L537.0,656.3 L539.0,655.6 L541.0,654.7 L543.0,656.0 L545.0,654.5 L547.0,657.6 L549.0,658.6 L551.0,659.5 L553.0,660.3 L555.0,660.4 L557.0,660.2 L559.0,660.0 L561.0,660.6 L563.0,660.6 L565.0,659.3 L567.0,660.3 L569.0,659.7 L571.0,659.9 L573.0,660.7 L575.0,660.8 L577.0,660.8 L579.0,660.3 L581.0,660.8 L583.0,660.4 L585.0,661.2 L587.0,661.5 L589.0,662.2 L591.0,661.9 L593.0,660.7 L595.0,661.0 L597.0,660.8 L599.0,661.6 L601.0,662.6 L603.0,661.9 L605.0,660.2 L607.0,660.8 L609.0,660.9 L611.0,662.0 L613.0,661.8 L615.0,662.0 L617.0,662.9 L619.0,661.4 L621.0,661.5 L623.0,663.2 L625.0,662.3 L627.0,661.7 L629.0,661.0 L631.0,661.3 L633.0,660.8 L635.0,662.3 L637.0,662.3 L639.0,662.9 L641.0,662.3 L643.0,662.0 L645.0,662.0 L647.0,663.6 L649.0,661.4 L651.0,662.6 L653.0,662.6 L655.0,663.0 L657.0,662.4 L659.0,662.9 L661.0,663.2 L663.0,662.6 L665.0,662.5 L667.0,662.7 L669.0,662.2 L671.0,662.7 L673.0,662.7 L675.0,663.0 L677.0,663.7 L679.0,663.7 L681.0,662.7 L683.0,663.4 L685.0,663.2 L687.0,663.5 L689.0,663.1 L691.0,663.3 L693.0,662.9 L695.0,662.7 L697.0,663.7 L699.0,664.0 L701.0,663.7 L703.0,663.6 L705.0,663.5 L707.0,663.1 L709.0,662.3 L711.0,663.8 L713.0,663.6 L715.0,663.2 L717.0,662.9 L719.0,664.3 L721.0,662.5 L723.0,664.7 L725.0,664.0 L727.0,665.1 L729.0,663.3 L731.0,663.7 L733.0,663.5 L735.0,663.9 L737.0,663.7 L739.0,663.4 L741.0,664.5 L743.0,663.5 L745.0,663.6 L747.0,664.3 L749.0,663.7 L751.0,663.8 L753.0,664.3 L755.0,663.9 L757.0,663.4 L759.0,664.1 L761.0,664.1 L763.0,665.2 L765.0,663.6 L767.0,664.9 L769.0,663.8 L771.0,664.1 L773.0,664.2 L775.0,664.6 L777.0,665.0 L779.0,665.5 L781.0,664.1 L783.0,665.3 L785.0,665.2 L787.0,665.1 L789.0,664.2 L791.0,665.2 L793.0,664.6 L795.0,664.9 L797.0,664.6 L799.0,665.2 L801.0,665.5 L803.0,665.5 L805.0,664.7 L807.0,665.5 L809.0,665.8 L811.0,664.4 L813.0,665.9 L815.0,664.2 L817.0,665.4 L819.0,665.4 L821.0,666.0 L823.0,665.3 L825.0,664.9 L827.0,664.7 L829.0,664.5 L831.0,665.7 L833.0,665.2 L835.0,664.9 L837.0,665.7 L839.0,664.9 L841.0,665.2 L843.0,665.2 L845.0,666.5 L847.0,666.4 L849.0,665.4 L851.0,664.6 L853.0,665.8 L855.0,665.7 L857.0,665.9 L859.0,666.0 L861.0,665.5 L863.0,666.3 L865.0,666.3 L867.0,665.9 L869.0,665.6 L871.0,665.6 L873.0,666.3 L875.0,665.3 L877.0,665.9 L879.0,665.5 L881.0,665.2 L883.0,666.4 L885.0,666.1 L887.0,666.1 L889.0,666.7 L891.0,665.3 L893.0,666.2 L895.0,666.4 L897.0,666.8 L899.0,665.6 L901.0,666.8 L903.0,666.5 L905.0,667.2 L907.0,667.1 L909.0,666.8 L911.0,667.8 L913.0,666.5 L915.0,666.3 L917.0,666.4 L919.0,666.0 L921.0,666.6 L923.0,665.5 L925.0,666.6 L927.0,667.0 L929.0,667.3 L931.0,666.6 L933.0,667.6 L935.0,666.5 L937.0,666.8 L939.0,665.8 L941.0,666.5 L943.0,666.5 L945.0,667.9 L947.0,667.3 L949.0,666.4 L951.0,667.4 L953.0,667.4 L955.0,667.0 L957.0,667.2 L959.0,667.0 L961.0,666.9 L963.0,666.2 L965.0,667.2 L967.0,668.1 L969.0,668.2 L971.0,667.2 L973.0,667.0 L975.0,667.3 L977.0,668.0 L979.0,667.7 L981.0,667.2 L983.0,667.8 L985.0,667.5 L987.0,667.9 L989.0,667.4 L991.0,666.8 L993.0,667.8 L995.0,668.2 L997.0,667.1 L999.0,667.7 L1001.0,668.2 L1003.0,667.3 L1005.0,666.6 L1007.0,667.0 L1009.0,664.3 L1011.0,661.9 L1013.0,658.3 L1015.0,658.2 L1017.0,656.3 L1019.0,658.6 L1021.0,661.9 L1023.0,664.8 L1025.0,665.5 L1027.0,666.9 L1029.0,668.0 L1031.0,667.1 L1033.0,668.7 L1035.0,668.7 L1037.0,668.1 L1039.0,668.7 L1041.0,668.9 L1043.0,668.7 L1045.0,668.8 L1047.0,669.4 L1049.0,668.3 L1051.0,668.7 L1053.0,668.3 L1055.0,669.3 L1057.0,668.5 L1059.0,669.0 L1061.0,668.8 L1063.0,668.8 L1065.0,669.8 L1067.0,668.8 L1069.0,669.7 L1071.0,669.4" stroke="#109e40"/>
<path d="M127.0,792.0 L129.0,791.3 L131.0,792.1 L133.0,791.4 L135.0,789.8 L137.0,790.8 L139.0,792.4 L141.0,794.1 L143.0,795.8 L145.0,795.3 L147.0,795.3 L149.0,795.9 L151.0,797.0 L153.0,796.3 L155.0,792.0 L157.0,777.4 L159.0,762.6 L161.0,768.1 L163.0,786.6 L165.0,795.5 L167.0,798.3 L169.0,798.6 L171.0,797.9 L173.0,795.4 L175.0,796.3 L177.0,796.0 L179.0,794.9 L181.0,792.9 L183.0,792.9 L185.0,792.7 L187.0,791.9 L189.0,790.5 L191.0,789.8 L193.0,790.2 L195.0,788.1 L197.0,788.9 L199.0,787.0 L201.0,785.5 L203.0,781.8 L205.0,778.3 L207.0,775.2 L209.0,772.2 L211.0,775.5 L213.0,776.8 L215.0,780.3 L217.0,783.1 L219.0,784.2 L221.0,784.4 L223.0,783.5 L225.0,783.2 L227.0,782.8 L229.0,782.3 L231.0,780.7 L233.0,782.4 L235.0,781.6 L237.0,781.2 L239.0,780.4 L241.0,780.5 L243.0,780.0 L245.0,779.6 L247.0,779.9 L249.0,777.9 L251.0,778.7 L251.5,777.9 L252.0,778.2 L252.5,779.1 L253.0,777.4 L253.5,777.7 L254.0,777.0 L254.5,777.4 L255.0,775.6 L255.5,774.3 L256.0,774.5 L256.5,772.7 L257.0,771.2 L257.5,770.2 L258.0,767.1 L258.5,765.4 L259.0,763.5 L259.5,761.5 L260.0,758.9 L260.5,757.9 L261.0,757.0 L261.5,754.3 L262.0,754.9 L262.5,752.3 L263.0,754.6 L263.5,754.3 L264.0,755.7 L264.5,757.0 L265.0,758.6 L265.5,760.2 L266.0,762.6 L266.5,765.4 L267.0,767.0 L267.5,767.4 L268.0,768.1 L268.5,768.2 L269.0,767.5 L269.5,768.0 L270.0,765.2 L270.5,761.9 L271.0,757.6 L271.5,752.5 L272.0,748.2 L272.5,741.5 L273.0,733.7 L273.5,727.9 L274.0,719.9 L274.5,714.6 L275.0,708.3 L275.5,704.6 L276.0,702.5 L276.5,701.6 L277.0,702.8 L277.5,704.3 L278.0,709.8 L278.5,715.0 L279.0,720.5 L279.5,727.7 L280.0,734.0 L280.5,741.3 L281.0,747.2 L281.5,753.9 L282.0,759.2 L282.5,764.3 L283.0,767.8 L283.5,770.6 L284.0,772.2 L284.5,774.1 L285.0,775.3 L285.5,776.5 L286.0,775.9 L286.5,777.9 L287.0,776.8 L287.5,777.5 L288.0,777.9 L288.5,777.6 L289.0,778.8 L289.5,777.6 L290.0,778.4 L290.5,777.9 L291.0,776.6 L291.5,776.7 L292.0,776.6 L292.5,774.8 L293.0,773.9 L293.5,772.1 L294.0,770.6 L294.5,768.0 L295.0,765.2 L295.5,762.1 L296.0,757.8 L296.5,751.5 L297.0,745.0 L297.5,737.5 L298.0,727.5 L298.5,716.3 L299.0,705.2 L299.5,689.9 L300.0,675.2 L300.5,656.6 L301.0,639.0 L301.5,616.6 L302.0,595.4 L302.5,572.4 L303.0,546.6 L303.5,523.0 L304.0,496.5 L304.5,471.1 L305.0,448.5 L305.5,425.6 L306.0,404.1 L306.5,384.0 L307.0,369.3 L307.5,356.3 L308.0,346.8 L308.5,341.1 L309.0,338.4 L309.5,341.1 L310.0,348.3 L310.5,357.8 L311.0,369.7 L311.5,385.7 L312.0,405.2 L312.5,426.6 L313.0,449.3 L313.5,472.2 L314.0,497.8 L314.5,522.8 L315.0,548.3 L315.5,572.3 L316.0,595.0 L316.5,617.2 L317.0,636.6 L317.5,656.4 L318.0,672.1 L318.5,687.6 L319.0,701.1 L319.5,711.5 L320.0,721.4 L320.5,729.0 L321.0,736.9 L321.5,742.4 L322.0,746.6 L322.5,750.6 L323.0,751.7 L323.5,755.0 L324.0,756.5 L324.5,757.4 L325.0,758.8 L325.5,759.9 L326.0,759.1 L326.5,759.2 L327.0,759.8 L327.5,760.6 L328.0,761.4 L328.5,761.1 L329.0,762.9 L329.5,762.6 L330.0,764.6 L330.5,765.4 L331.0,766.6 L331.5,768.8 L332.0,768.7 L332.5,770.1 L333.0,771.8 L333.5,773.5 L334.0,773.6 L334.5,775.9 L335.0,776.7 L335.5,778.8 L336.0,780.4 L336.5,780.8 L337.0,781.9 L337.5,783.1 L338.0,782.2 L338.5,785.3 L339.0,785.9 L339.5,786.4 L340.0,786.8 L340.5,787.2 L341.0,788.0 L341.5,789.3 L342.0,789.0 L342.5,790.2 L343.0,788.3 L343.5,789.8 L344.0,790.5 L344.5,790.6 L345.0,789.9 L347.0,790.7 L349.0,792.0 L351.0,790.6 L353.0,790.8 L355.0,790.7 L357.0,790.9 L359.0,791.3 L361.0,790.6 L363.0,788.2 L365.0,789.6 L367.0,788.5 L369.0,789.2 L371.0,791.4 L373.0,791.2 L375.0,791.0 L377.0,791.6 L379.0,791.6 L381.0,791.5 L383.0,791.9 L385.0,792.7 L387.0,792.4 L389.0,791.5 L391.0,793.9 L393.0,791.8 L395.0,792.5 L397.0,792.5 L399.0,793.0 L401.0,792.4 L403.0,792.9 L405.0,793.9 L407.0,792.8 L409.0,792.2 L411.0,793.0 L413.0,792.4 L415.0,792.7 L417.0,793.0 L419.0,792.9 L421.0,792.1 L423.0,792.0 L425.0,790.6 L427.0,789.5 L429.0,791.0 L431.0,791.1 L433.0,792.9 L435.0,792.5 L437.0,793.6 L439.0,793.7 L441.0,792.0 L443.0,792.8 L445.0,793.0 L447.0,794.5 L449.0,792.7 L451.0,794.3 L453.0,794.5 L455.0,794.2 L457.0,794.4 L459.0,793.7 L461.0,794.1 L463.0,794.2 L465.0,794.4 L467.0,794.6 L469.0,794.1 L471.0,793.9 L473.0,794.0 L475.0,794.7 L477.0,793.5 L479.0,793.8 L481.0,794.3 L483.0,794.3 L485.0,794.5 L487.0,793.2 L489.0,794.6 L491.0,794.7 L493.0,795.3 L495.0,793.8 L497.0,794.8 L499.0,795.3 L501.0,795.3 L503.0,795.8 L505.0,795.8 L507.0,794.6 L509.0,795.6 L511.0,795.1 L513.0,794.9 L515.0,796.3 L517.0,795.1 L519.0,795.0 L521.0,795.3 L523.0,795.1 L525.0,796.2 L527.0,795.9 L529.0,796.5 L531.0,795.9 L533.0,795.0 L535.0,795.2 L537.0,792.9 L539.0,791.6 L541.0,791.0 L543.0,791.5 L545.0,793.4 L547.0,793.9 L549.0,795.6 L551.0,796.0 L553.0,795.5 L555.0,795.7 L557.0,796.3 L559.0,796.7 L561.0,796.7 L563.0,796.9 L565.0,796.7 L567.0,796.4 L569.0,797.0 L571.0,796.2 L573.0,796.1 L575.0,796.7 L577.0,796.1 L579.0,796.7 L581.0,796.6 L583.0,796.8 L585.0,797.1 L587.0,796.7 L589.0,797.0 L591.0,796.3 L593.0,797.4 L595.0,796.9 L597.0,797.7 L599.0,795.8 L601.0,797.1 L603.0,797.7 L605.0,796.2 L607.0,797.5 L609.0,797.8 L611.0,797.8 L613.0,797.0 L615.0,798.0 L617.0,798.0 L619.0,797.4 L621.0,798.5 L623.0,798.0 L625.0,798.1 L627.0,797.9 L629.0,798.5 L631.0,798.3 L633.0,798.9 L635.0,798.5 L637.0,798.0 L639.0,798.2 L641.0,798.9 L643.0,798.2 L645.0,798.6 L647.0,798.7 L649.0,798.4 L651.0,797.1 L653.0,798.6 L655.0,798.7 L657.0,798.6 L659.0,798.1 L661.0,799.3 L663.0,798.6 L665.0,798.3 L667.0,798.3 L669.0,798.9 L671.0,798.1 L673.0,798.2 L675.0,799.9 L677.0,799.6 L679.0,799.4 L681.0,799.7 L683.0,799.2 L685.0,797.9 L687.0,799.6 L689.0,799.7 L691.0,799.3 L693.0,797.9 L695.0,799.8 L697.0,799.9 L699.0,798.8 L701.0,799.2 L703.0,799.6 L705.0,799.1 L707.0,799.8 L709.0,799.3 L711.0,799.6 L713.0,799.3 L715.0,798.4 L717.0,798.7 L719.0,801.2 L721.0,799.5 L723.0,800.1 L725.0,800.1 L727.0,800.4 L729.0,799.8 L731.0,799.1 L733.0,799.5 L735.0,798.4 L737.0,799.4 L739.0,800.1 L741.0,798.3 L743.0,799.7 L745.0,800.1 L747.0,800.5 L749.0,799.2 L751.0,799.4 L753.0,798.7 L755.0,799.2 L757.0,800.1 L759.0,801.0 L761.0,799.2 L763.0,800.7 L765.0,800.2 L767.0,799.6 L769.0,801.2 L771.0,798.5 L773.0,800.0 L775.0,800.2 L777.0,801.3 L779.0,801.1 L781.0,801.4 L783.0,800.2 L785.0,800.7 L787.0,801.0 L789.0,800.5 L791.0,800.4 L793.0,800.1 L795.0,800.0 L797.0,799.6 L799.0,801.5 L801.0,800.1 L803.0,799.2 L805.0,800.6 L807.0,800.4 L809.0,800.6 L811.0,801.5 L813.0,800.4 L815.0,800.4 L817.0,800.1 L819.0,800.6 L821.0,800.3 L823.0,800.7 L825.0,802.5 L827.0,800.9 L829.0,800.2 L831.0,801.9 L833.0,801.3 L835.0,801.3 L837.0,801.2 L839.0,801.3 L841.0,801.2 L843.0,801.7 L845.0,801.5 L847.0,801.7 L849.0,800.7 L851.0,801.0 L853.0,800.6 L855.0,801.6 L857.0,801.5 L859.0,800.8 L861.0,801.4 L863.0,802.7 L865.0,801.9 L867.0,800.5 L869.0,801.1 L871.0,801.6 L873.0,801.2 L875.0,801.5 L877.0,802.0 L879.0,801.5 L881.0,800.7 L883.0,801.8 L885.0,801.3 L887.0,801.5 L889.0,801.1 L891.0,800.7 L893.0,800.8 L895.0,801.3 L897.0,800.9 L899.0,800.0 L901.0,802.3 L903.0,800.9 L905.0,801.2 L907.0,802.0 L909.0,800.3 L911.0,802.5 L913.0,801.3 L915.0,802.2 L917.0,801.5 L919.0,802.0 L921.0,801.9 L923.0,801.9 L925.0,800.8 L927.0,801.1 L929.0,801.9 L931.0,802.8 L933.0,801.7 L935.0,802.3 L937.0,802.1 L939.0,802.4 L941.0,802.7 L943.0,801.2 L945.0,802.3 L947.0,802.1 L949.0,802.0 L951.0,801.7 L953.0,801.8 L955.0,801.7 L957.0,801.7 L959.0,803.8 L961.0,803.3 L963.0,802.4 L965.0,802.8 L967.0,801.8 L969.0,800.8 L971.0,801.4 L973.0,802.6 L975.0,803.4 L977.0,802.5 L979.0,802.0 L981.0,802.5 L983.0,802.0 L985.0,801.8 L987.0,802.5 L989.0,802.5 L991.0,802.2 L993.0,802.2 L995.0,802.2 L997.0,802.9 L999.0,803.6 L1001.0,802.6 L1003.0,803.8 L1005.0,800.9 L1007.0,800.7 L1009.0,797.8 L1011.0,795.6 L1013.0,793.0 L1015.0,791.6 L1017.0,791.9 L1019.0,792.7 L1021.0,795.1 L1023.0,798.5 L1025.0,800.9 L1027.0,801.7 L1029.0,803.3 L1031.0,804.1 L1033.0,802.4 L1035.0,803.5 L1037.0,803.9 L1039.0,802.2 L1041.0,803.5 L1043.0,803.2 L1045.0,802.6 L1047.0,804.2 L1049.0,803.6 L1051.0,803.2 L1053.0,803.7 L1055.0,803.9 L1057.0,804.0 L1059.0,803.9 L1061.0,803.8 L1063.0,802.9 L1065.0,803.4 L1067.0,803.7 L1069.0,802.1 L1071.0,804.9" stroke="#2870a0"/>
<path d="M127.0,925.3 L129.0,925.1 L131.0,924.8 L133.0,925.4 L135.0,924.5 L137.0,924.6 L139.0,926.5 L141.0,927.9 L143.0,928.9 L145.0,929.9 L147.0,930.2 L149.0,931.6 L151.0,931.4 L153.0,931.0 L155.0,926.1 L157.0,910.5 L159.0,893.3 L161.0,899.9 L163.0,919.6 L165.0,929.6 L167.0,932.0 L169.0,932.5 L171.0,931.6 L173.0,930.6 L175.0,929.3 L177.0,928.5 L179.0,928.9 L181.0,928.6 L183.0,927.6 L185.0,925.9 L187.0,925.8 L189.0,925.4 L191.0,924.1 L193.0,924.1 L195.0,923.1 L197.0,922.0 L199.0,920.9 L201.0,921.2 L203.0,919.7 L205.0,917.3 L207.0,915.6 L209.0,915.8 L211.0,916.0 L213.0,916.6 L215.0,918.8 L217.0,918.3 L219.0,917.9 L221.0,919.0 L223.0,917.9 L225.0,917.8 L227.0,917.3 L229.0,916.3 L231.0,915.8 L233.0,916.0 L235.0,916.6 L237.0,914.8 L239.0,915.8 L241.0,914.8 L243.0,913.7 L245.0,914.1 L247.0,913.9 L249.0,912.6 L251.0,911.6 L251.5,913.0 L252.0,912.0 L252.5,912.8 L253.0,911.1 L253.5,911.8 L254.0,911.0 L254.5,910.0 L255.0,910.0 L255.5,909.2 L256.0,907.6 L256.5,905.8 L257.0,904.9 L257.5,901.8 L258.0,901.0 L258.5,898.6 L259.0,896.9 L259.5,894.0 L260.0,891.4 L260.5,889.2 L261.0,887.3 L261.5,885.2 L262.0,886.0 L262.5,885.1 L263.0,884.9 L263.5,885.2 L264.0,888.1 L264.5,889.2 L265.0,890.2 L265.5,893.5 L266.0,896.4 L266.5,897.4 L267.0,899.4 L267.5,900.4 L268.0,901.2 L268.5,902.5 L269.0,903.2 L269.5,900.2 L270.0,897.8 L270.5,895.1 L271.0,890.1 L271.5,885.5 L272.0,879.4 L272.5,871.4 L273.0,863.9 L273.5,856.9 L274.0,850.0 L274.5,842.9 L275.0,837.6 L275.5,831.6 L276.0,829.9 L276.5,828.3 L277.0,829.7 L277.5,832.6 L278.0,836.3 L278.5,842.6 L279.0,848.9 L279.5,857.2 L280.0,864.3 L280.5,872.0 L281.0,879.6 L281.5,885.6 L282.0,892.3 L282.5,896.1 L283.0,901.0 L283.5,903.9 L284.0,905.6 L284.5,908.0 L285.0,909.0 L285.5,910.3 L286.0,911.0 L286.5,912.7 L287.0,911.7 L287.5,913.0 L288.0,912.4 L288.5,911.4 L289.0,910.7 L289.5,912.3 L290.0,910.6 L290.5,911.9 L291.0,911.7 L291.5,910.8 L292.0,909.8 L292.5,908.9 L293.0,908.0 L293.5,906.1 L294.0,904.0 L294.5,901.5 L295.0,899.2 L295.5,894.2 L296.0,890.0 L296.5,883.2 L297.0,876.3 L297.5,867.5 L298.0,858.3 L298.5,847.3 L299.0,833.8 L299.5,818.3 L300.0,802.0 L300.5,782.7 L301.0,762.6 L301.5,740.3 L302.0,716.6 L302.5,689.8 L303.0,664.3 L303.5,638.8 L304.0,611.4 L304.5,586.1 L305.0,558.9 L305.5,534.3 L306.0,512.9 L306.5,492.3 L307.0,475.9 L307.5,461.3 L308.0,450.7 L308.5,445.1 L309.0,442.2 L309.5,444.6 L310.0,450.8 L310.5,461.3 L311.0,475.8 L311.5,492.4 L312.0,513.0 L312.5,535.1 L313.0,560.4 L313.5,584.0 L314.0,612.0 L314.5,639.0 L315.0,664.8 L315.5,691.9 L316.0,716.2 L316.5,740.2 L317.0,761.8 L317.5,781.6 L318.0,799.2 L318.5,814.8 L319.0,829.5 L319.5,841.7 L320.0,852.6 L320.5,861.1 L321.0,870.5 L321.5,873.8 L322.0,880.3 L322.5,883.1 L323.0,886.2 L323.5,889.1 L324.0,890.2 L324.5,890.7 L325.0,892.5 L325.5,892.8 L326.0,892.3 L326.5,894.0 L327.0,893.7 L327.5,894.3 L328.0,895.6 L328.5,896.1 L329.0,896.5 L329.5,898.7 L330.0,898.6 L330.5,899.1 L331.0,900.7 L331.5,901.8 L332.0,901.8 L332.5,903.6 L333.0,905.1 L333.5,908.5 L334.0,908.6 L334.5,909.9 L335.0,911.1 L335.5,913.3 L336.0,913.9 L336.5,916.1 L337.0,916.7 L337.5,918.2 L338.0,918.2 L338.5,919.3 L339.0,919.7 L339.5,920.6 L340.0,920.3 L340.5,921.6 L341.0,921.9 L341.5,922.5 L342.0,924.1 L342.5,923.9 L343.0,924.8 L343.5,924.9 L344.0,925.2 L344.5,925.5 L345.0,924.8 L347.0,925.9 L349.0,925.4 L351.0,925.3 L353.0,926.4 L355.0,926.9 L357.0,925.0 L359.0,926.2 L361.0,925.0 L363.0,923.2 L365.0,923.2 L367.0,923.4 L369.0,924.0 L371.0,924.6 L373.0,924.8 L375.0,926.0 L377.0,926.7 L379.0,926.8 L381.0,926.8 L383.0,927.1 L385.0,925.9 L387.0,926.5 L389.0,926.8 L391.0,927.2 L393.0,926.8 L395.0,927.0 L397.0,926.9 L399.0,928.0 L401.0,925.6 L403.0,926.9 L405.0,928.4 L407.0,927.2 L409.0,926.0 L411.0,927.2 L413.0,926.4 L415.0,926.8 L417.0,927.4 L419.0,928.3 L421.0,927.6 L423.0,927.8 L425.0,928.1 L427.0,927.6 L429.0,927.1 L431.0,927.6 L433.0,927.9 L435.0,927.6 L437.0,927.4 L439.0,927.6 L441.0,927.0 L443.0,927.3 L445.0,927.9 L447.0,927.8 L449.0,928.1 L451.0,928.9 L453.0,928.3 L455.0,928.2 L457.0,927.6 L459.0,927.7 L461.0,928.6 L463.0,927.9 L465.0,928.7 L467.0,927.9 L469.0,928.6 L471.0,928.6 L473.0,929.2 L475.0,928.5 L477.0,928.6 L479.0,929.0 L481.0,928.9 L483.0,929.9 L485.0,928.8 L487.0,928.7 L489.0,928.9 L491.0,929.4 L493.0,929.3 L495.0,929.6 L497.0,928.5 L499.0,930.7 L501.0,930.4 L503.0,929.4 L505.0,928.8 L507.0,929.6 L509.0,929.8 L511.0,928.3 L513.0,929.7 L515.0,928.9 L517.0,930.0 L519.0,930.6 L521.0,930.5 L523.0,929.0 L525.0,930.7 L527.0,930.5 L529.0,929.8 L531.0,930.3 L533.0,930.6 L535.0,928.9 L537.0,928.1 L539.0,926.7 L541.0,927.0 L543.0,925.4 L545.0,928.5 L547.0,928.4 L549.0,930.4 L551.0,929.4 L553.0,930.0 L555.0,930.3 L557.0,931.2 L559.0,929.9 L561.0,931.2 L563.0,930.5 L565.0,931.7 L567.0,930.8 L569.0,931.3 L571.0,931.0 L573.0,932.2 L575.0,931.0 L577.0,931.2 L579.0,932.4 L581.0,931.4 L583.0,931.8 L585.0,931.0 L587.0,931.6 L589.0,930.2 L591.0,931.6 L593.0,931.3 L595.0,930.8 L597.0,930.9 L599.0,932.4 L601.0,932.1 L603.0,931.0 L605.0,933.0 L607.0,931.6 L609.0,931.8 L611.0,932.2 L613.0,931.5 L615.0,931.2 L617.0,931.8 L619.0,933.0 L621.0,932.9 L623.0,931.5 L625.0,933.1 L627.0,932.5 L629.0,932.8 L631.0,932.6 L633.0,932.8 L635.0,932.0 L637.0,932.1 L639.0,932.2 L641.0,932.4 L643.0,933.0 L645.0,932.0 L647.0,933.7 L649.0,932.4 L651.0,932.4 L653.0,933.2 L655.0,933.1 L657.0,932.7 L659.0,932.3 L661.0,932.3 L663.0,932.0 L665.0,933.6 L667.0,933.6 L669.0,934.1 L671.0,933.3 L673.0,933.3 L675.0,933.5 L677.0,933.7 L679.0,933.0 L681.0,933.4 L683.0,934.4 L685.0,932.2 L687.0,932.4 L689.0,932.7 L691.0,933.7 L693.0,934.0 L695.0,933.1 L697.0,933.7 L699.0,933.4 L701.0,933.6 L703.0,933.1 L705.0,933.4 L707.0,933.5 L709.0,934.2 L711.0,934.8 L713.0,932.5 L715.0,933.9 L717.0,933.6 L719.0,934.2 L721.0,934.3 L723.0,934.1 L725.0,934.2 L727.0,933.2 L729.0,932.8 L731.0,934.7 L733.0,934.5 L735.0,933.3 L737.0,934.6 L739.0,934.3 L741.0,932.5 L743.0,934.5 L745.0,933.4 L747.0,934.7 L749.0,933.6 L751.0,933.6 L753.0,933.2 L755.0,934.0 L757.0,934.7 L759.0,933.7 L761.0,933.1 L763.0,935.4 L765.0,935.3 L767.0,934.6 L769.0,933.9 L771.0,933.6 L773.0,933.4 L775.0,934.7 L777.0,935.1 L779.0,933.8 L781.0,934.4 L783.0,934.3 L785.0,934.3 L787.0,934.8 L789.0,935.7 L791.0,934.2 L793.0,935.0 L795.0,935.2 L797.0,934.4 L799.0,934.5 L801.0,933.9 L803.0,935.3 L805.0,934.4 L807.0,934.3 L809.0,934.8 L811.0,934.3 L813.0,934.2 L815.0,934.7 L817.0,935.7 L819.0,934.8 L821.0,935.2 L823.0,934.1 L825.0,933.8 L827.0,936.0 L829.0,934.8 L831.0,934.1 L833.0,935.0 L835.0,935.4 L837.0,934.1 L839.0,934.6 L841.0,935.3 L843.0,934.6 L845.0,935.7 L847.0,935.8 L849.0,935.5 L851.0,935.0 L853.0,935.3 L855.0,935.0 L857.0,935.3 L859.0,935.6 L861.0,935.2 L863.0,936.0 L865.0,937.0 L867.0,935.2 L869.0,935.7 L871.0,936.0 L873.0,935.9 L875.0,935.4 L877.0,935.3 L879.0,936.2 L881.0,936.0 L883.0,936.0 L885.0,935.2 L887.0,936.1 L889.0,936.2 L891.0,935.7 L893.0,936.2 L895.0,937.1 L897.0,934.8 L899.0,936.2 L901.0,935.2 L903.0,935.1 L905.0,935.8 L907.0,936.3 L909.0,936.0 L911.0,935.3 L913.0,935.2 L915.0,935.7 L917.0,936.1 L919.0,935.6 L921.0,935.3 L923.0,937.2 L925.0,935.7 L927.0,936.1 L929.0,935.9 L931.0,935.9 L933.0,936.3 L935.0,936.1 L937.0,936.7 L939.0,935.7 L941.0,935.5 L943.0,937.6 L945.0,936.4 L947.0,936.9 L949.0,937.2 L951.0,936.8 L953.0,936.6 L955.0,935.7 L957.0,935.7 L959.0,937.2 L961.0,937.0 L963.0,937.0 L965.0,935.7 L967.0,935.5 L969.0,936.1 L971.0,936.1 L973.0,936.9 L975.0,936.2 L977.0,937.8 L979.0,936.5 L981.0,936.6 L983.0,937.4 L985.0,937.1 L987.0,936.4 L989.0,937.5 L991.0,938.1 L993.0,936.3 L995.0,936.9 L997.0,936.5 L999.0,936.0 L1001.0,937.4 L1003.0,937.2 L1005.0,936.8 L1007.0,935.3 L1009.0,931.9 L1011.0,930.6 L1013.0,927.7 L1015.0,925.8 L1017.0,925.9 L1019.0,928.6 L1021.0,930.5 L1023.0,934.4 L1025.0,935.5 L1027.0,935.4 L1029.0,937.6 L1031.0,938.1 L1033.0,937.5 L1035.0,936.8 L1037.0,938.6 L1039.0,936.8 L1041.0,937.6 L1043.0,936.6 L1045.0,937.0 L1047.0,936.7 L1049.0,938.4 L1051.0,938.5 L1053.0,937.6 L1055.0,937.0 L1057.0,937.8 L1059.0,938.1 L1061.0,937.0 L1063.0,937.2 L1065.0,937.9 L1067.0,938.4 L1069.0,938.0 L1071.0,938.3" stroke="#4040ff"/>
</g>
<line x1="322.3" y1="66" x2="322.3" y2="1008" stroke="#ff0000" stroke-opacity="0.7" stroke-width="4.5" stroke-dasharray="39.1 39.1" stroke-dashoffset="18.3"/>
<line x1="248.8" y1="181" x2="262.9" y2="208.5" stroke="#000" stroke-width="2.6" stroke-dasharray="4.5 8.5"/>
<line x1="349.6" y1="122.2" x2="310.5" y2="211.5" stroke="#000" stroke-width="2.6" stroke-dasharray="4.5 8.5"/>
<line x1="349.6" y1="122.2" x2="336.5" y2="217.7" stroke="#000" stroke-width="2.6" stroke-dasharray="4.5 8.5"/>
<rect x="128" y="66" width="942" height="942" fill="none" stroke="#000" stroke-width="4.5"/>
<path d="M204.8,1008V995M204.8,66V79M300.9,1008V982M300.9,66V92M397.0,1008V995M397.0,66V79M493.1,1008V982M493.1,66V92M589.2,1008V995M589.2,66V79M685.3,1008V982M685.3,66V92M781.4,1008V995M781.4,66V79M877.5,1008V982M877.5,66V92M973.6,1008V995M973.6,66V79" stroke="#000" stroke-width="4" fill="none"/>
<text x="283.29" y="1087.00" font-size="62" fill="#000" textLength="35.53" lengthAdjust="spacingAndGlyphs">2</text>
<text x="476.07" y="1087.00" font-size="62" fill="#000" textLength="32.12" lengthAdjust="spacingAndGlyphs">4</text>
<text x="667.15" y="1087.00" font-size="62" fill="#000" textLength="36.64" lengthAdjust="spacingAndGlyphs">6</text>
<text x="859.79" y="1087.00" font-size="62" fill="#000" textLength="35.91" lengthAdjust="spacingAndGlyphs">8</text>
<text x="1037.57" y="1087.00" font-size="62" fill="#000" textLength="64.70" lengthAdjust="spacingAndGlyphs">10</text>
<text x="31.75" y="105.50" font-size="80" font-weight="bold" fill="#000" textLength="40.78" lengthAdjust="spacingAndGlyphs">a</text>
<text x="238.40" y="53.00" font-size="62" fill="#ff0000" textLength="160.62" lengthAdjust="spacingAndGlyphs">Nb Lα</text>
<text transform="translate(67.80,746.63) rotate(-90)" x="0" y="0" font-size="73" fill="#000" textLength="413.26" lengthAdjust="spacingAndGlyphs">Counts (a.u.)</text>
<text x="422.85" y="1186.00" font-size="62.5" fill="#000" textLength="345.12" lengthAdjust="spacingAndGlyphs">Energy (keV)</text>
<text transform="translate(228.40,231.11) rotate(-90)" x="0" y="0" font-size="56.5" fill="#086830" textLength="147.12" lengthAdjust="spacingAndGlyphs">Na Kα</text>
<text transform="translate(451.90,202.33) rotate(-90)" x="0" y="0" font-size="55" fill="#024080" textLength="115.55" lengthAdjust="spacingAndGlyphs">K Kα</text>
<text x="142.85" y="201.80" font-size="41" fill="#000" textLength="32.02" lengthAdjust="spacingAndGlyphs">O</text>
<text x="230.06" y="180.40" font-size="40" fill="#000" textLength="37.33" lengthAdjust="spacingAndGlyphs">Pt</text>
<text x="261.09" y="148.00" font-size="40" fill="#000" textLength="35.39" lengthAdjust="spacingAndGlyphs">Si</text>
<text x="330.01" y="118.50" font-size="40" fill="#000" textLength="39.10" lengthAdjust="spacingAndGlyphs">Pt</text>
<text x="528.09" y="239.10" font-size="40" fill="#222" textLength="33.63" lengthAdjust="spacingAndGlyphs">Ti</text>
<text x="996.77" y="239.60" font-size="40" fill="#222" textLength="39.54" lengthAdjust="spacingAndGlyphs">Pt</text>
<text x="596.45" y="243.70" font-size="63" fill="#000" textLength="192.62" lengthAdjust="spacingAndGlyphs">100%K</text>
<text x="804.09" y="243.70" font-size="40" fill="#000" textLength="137.01" lengthAdjust="spacingAndGlyphs">(0%Na)</text>
<text x="595.22" y="368.50" font-size="63" fill="#000" textLength="160.25" lengthAdjust="spacingAndGlyphs">75%K</text>
<text x="771.39" y="368.50" font-size="40" fill="#000" textLength="159.72" lengthAdjust="spacingAndGlyphs">(25%Na)</text>
<text x="595.32" y="511.50" font-size="63" fill="#000" textLength="158.85" lengthAdjust="spacingAndGlyphs">50%K</text>
<text x="770.90" y="511.50" font-size="40" fill="#000" textLength="158.79" lengthAdjust="spacingAndGlyphs">(50%Na)</text>
<text x="597.68" y="639.50" font-size="63" fill="#000" textLength="160.50" lengthAdjust="spacingAndGlyphs">25%K</text>
<text x="773.89" y="639.50" font-size="40" fill="#000" textLength="159.82" lengthAdjust="spacingAndGlyphs">(75%Na)</text>
<text x="601.68" y="781.70" font-size="63" fill="#000" textLength="125.69" lengthAdjust="spacingAndGlyphs">0%K</text>
<text x="743.49" y="781.70" font-size="40" fill="#000" textLength="182.43" lengthAdjust="spacingAndGlyphs">(100%Na)</text>
<text x="598.58" y="907.50" font-size="62" fill="#000" textLength="235.67" lengthAdjust="spacingAndGlyphs">As depo.</text>
<g stroke-width="2.8">
<rect x="1355.4" y="855.9" width="41.4" height="152.1" fill="#c4ecd8" stroke="#111"/>
<rect x="1437.0" y="216.0" width="44.6" height="792.0" fill="#dafea8"/>
<path d="M1438.6,1008V217.6" fill="none" stroke="#1a1a1a" stroke-width="3.2" stroke-dasharray="18.4 15.95" stroke-dashoffset="1.7"/>
<path d="M1438.6,217.6H1480.0M1480.0,217.6V1008" fill="none" stroke="#1a1a1a" stroke-width="3.2" stroke-dasharray="18.8 15.55"/>
<rect x="1512.5" y="676.6" width="41.4" height="331.4" fill="#c4ecd8" stroke="#111"/>
<rect x="1594.1" y="395.29999999999995" width="44.6" height="612.7" fill="#dafea8"/>
<path d="M1595.7,1008V396.9" fill="none" stroke="#1a1a1a" stroke-width="3.2" stroke-dasharray="18.4 15.95" stroke-dashoffset="1.7"/>
<path d="M1595.7,396.9H1637.0M1637.0,396.9V1008" fill="none" stroke="#1a1a1a" stroke-width="3.2" stroke-dasharray="18.8 15.55"/>
<rect x="1669.5" y="837.9" width="41.4" height="170.1" fill="#c4ecd8" stroke="#111"/>
<rect x="1710.9" y="726" width="41.8" height="282.0" fill="#bcd6f8" stroke="#111"/>
<rect x="1751.1" y="515.6" width="44.6" height="492.4" fill="#dafea8"/>
<path d="M1752.7,1008V517.2" fill="none" stroke="#1a1a1a" stroke-width="3.2" stroke-dasharray="18.4 15.95" stroke-dashoffset="1.7"/>
<path d="M1752.7,517.2H1794.1M1794.1,517.2V1008" fill="none" stroke="#1a1a1a" stroke-width="3.2" stroke-dasharray="18.8 15.55"/>
<rect x="1826.6" y="841.8" width="41.4" height="166.2" fill="#c4ecd8" stroke="#111"/>
<rect x="1868.0" y="638.2" width="41.8" height="369.8" fill="#bcd6f8" stroke="#111"/>
<rect x="1908.2" y="598.4" width="44.6" height="409.6" fill="#dafea8"/>
<path d="M1909.8,1008V600" fill="none" stroke="#1a1a1a" stroke-width="3.2" stroke-dasharray="18.4 15.95" stroke-dashoffset="1.7"/>
<path d="M1909.8,600H1951.2M1951.2,600V1008" fill="none" stroke="#1a1a1a" stroke-width="3.2" stroke-dasharray="18.8 15.55"/>
<rect x="1983.6" y="936.7" width="41.4" height="71.3" fill="#c4ecd8" stroke="#111"/>
<rect x="2025.0" y="482.6" width="41.8" height="525.4" fill="#bcd6f8" stroke="#111"/>
<rect x="2065.2" y="659.6999999999999" width="44.6" height="348.3" fill="#dafea8"/>
<path d="M2066.8,1008V661.3" fill="none" stroke="#1a1a1a" stroke-width="3.2" stroke-dasharray="18.4 15.95" stroke-dashoffset="1.7"/>
<path d="M2066.8,661.3H2108.2M2108.2,661.3V1008" fill="none" stroke="#1a1a1a" stroke-width="3.2" stroke-dasharray="18.8 15.55"/>
<rect x="2140.6" y="936.7" width="41.4" height="71.3" fill="#c4ecd8" stroke="#111"/>
<rect x="2182.0" y="510.7" width="41.8" height="497.3" fill="#bcd6f8" stroke="#111"/>
<rect x="2222.2" y="630.8" width="44.6" height="377.2" fill="#dafea8"/>
<path d="M2223.8,1008V632.4" fill="none" stroke="#1a1a1a" stroke-width="3.2" stroke-dasharray="18.4 15.95" stroke-dashoffset="1.7"/>
<path d="M2223.8,632.4H2265.2M2265.2,632.4V1008" fill="none" stroke="#1a1a1a" stroke-width="3.2" stroke-dasharray="18.8 15.55"/>
</g>
<path d="M1574.8,1008.0 L1731.8,813.3 L1888.9,746.5 L2045.9,140.6 L2202.9,184.6" fill="none" stroke="#5a5a5a" stroke-width="2.3" stroke-dasharray="18.5 15.5"/>
<defs><clipPath id="cb"><rect x="1339" y="0" width="942" height="1008"/></clipPath></defs>
<g clip-path="url(#cb)">
<circle cx="1417.7" cy="1008.0" r="18" fill="#f04040"/>
<circle cx="1574.8" cy="1008.0" r="18" fill="#f04040"/>
<circle cx="1731.8" cy="813.3" r="18" fill="#f04040"/>
<circle cx="1888.9" cy="746.5" r="18" fill="#f04040"/>
<circle cx="2045.9" cy="140.6" r="18" fill="#f04040"/>
<circle cx="2202.9" cy="184.6" r="18" fill="#f04040"/>
</g>
<line x1="2156" y1="141.6" x2="2212" y2="141.6" stroke="#f04040" stroke-width="3"/>
<path d="M2204.3,131.9 L2238.3,141.3 L2204.3,150.7 Z" fill="#f04040"/>
<rect x="1339" y="65.5" width="942" height="942.5" fill="none" stroke="#000" stroke-width="4.5"/>
<path d="M1339,1008.0H1366M1339,913.8H1352.6M1339,819.5H1366M1339,725.2H1352.6M1339,631.0H1366M1339,536.8H1352.6M1339,442.5H1366M1339,348.2H1352.6M1339,254.0H1366M1339,159.7H1352.6M1339,65.5H1366M2281,1008.0H2255M2281,960.9H2268.5M2281,913.8H2268.5M2281,866.6H2268.5M2281,819.5H2268.5M2281,772.4H2255M2281,725.3H2268.5M2281,678.2H2268.5M2281,631.0H2268.5M2281,583.9H2268.5M2281,536.8H2255M2281,489.7H2268.5M2281,442.6H2268.5M2281,395.4H2268.5M2281,348.3H2268.5M2281,301.2H2255M2281,254.1H2268.5M2281,207.0H2268.5M2281,159.8H2268.5M2281,112.7H2268.5M2281,65.6H2255M1417.7,1008V982M1417.7,65.5V92.5M1574.8,1008V982M1574.8,65.5V92.5M1731.8,1008V982M1731.8,65.5V92.5M1888.9,1008V982M1888.9,65.5V92.5M2045.9,1008V982M2045.9,65.5V92.5M2202.9,1008V982M2202.9,65.5V92.5" stroke="#000" stroke-width="4" fill="none"/>
<text x="1275.12" y="1026.80" font-size="62" fill="#000" textLength="32.46" lengthAdjust="spacingAndGlyphs">0</text>
<text x="1239.10" y="838.30" font-size="62" fill="#000" textLength="68.61" lengthAdjust="spacingAndGlyphs">20</text>
<text x="1241.64" y="649.80" font-size="62" fill="#000" textLength="65.98" lengthAdjust="spacingAndGlyphs">40</text>
<text x="1239.91" y="461.30" font-size="62" fill="#000" textLength="67.77" lengthAdjust="spacingAndGlyphs">60</text>
<text x="1241.10" y="272.80" font-size="62" fill="#000" textLength="66.54" lengthAdjust="spacingAndGlyphs">80</text>
<text x="1210.36" y="84.30" font-size="62" fill="#000" textLength="97.21" lengthAdjust="spacingAndGlyphs">100</text>
<text x="2312.17" y="1026.30" font-size="62" fill="#000" textLength="33.16" lengthAdjust="spacingAndGlyphs">0</text>
<text x="2311.35" y="790.70" font-size="62" fill="#000" textLength="34.79" lengthAdjust="spacingAndGlyphs">2</text>
<text x="2313.20" y="555.10" font-size="62" fill="#000" textLength="31.45" lengthAdjust="spacingAndGlyphs">4</text>
<text x="2311.36" y="319.50" font-size="62" fill="#000" textLength="34.35" lengthAdjust="spacingAndGlyphs">6</text>
<text x="2311.86" y="83.90" font-size="62" fill="#000" textLength="33.78" lengthAdjust="spacingAndGlyphs">8</text>
<text x="1298.88" y="1086.00" font-size="62" fill="#000" textLength="232.80" lengthAdjust="spacingAndGlyphs">As depo.</text>
<text x="1556.72" y="1086.00" font-size="62" fill="#000" textLength="35.25" lengthAdjust="spacingAndGlyphs">0</text>
<text x="1694.92" y="1086.00" font-size="62" fill="#000" textLength="70.34" lengthAdjust="spacingAndGlyphs">25</text>
<text x="1855.87" y="1086.00" font-size="62" fill="#000" textLength="64.59" lengthAdjust="spacingAndGlyphs">50</text>
<text x="2011.38" y="1086.00" font-size="62" fill="#000" textLength="67.67" lengthAdjust="spacingAndGlyphs">75</text>
<text x="2153.93" y="1086.00" font-size="62" fill="#000" textLength="97.97" lengthAdjust="spacingAndGlyphs">100</text>
<text x="1126.44" y="106.50" font-size="80" font-weight="bold" fill="#000" textLength="51.52" lengthAdjust="spacingAndGlyphs">b</text>
<text transform="translate(1179.00,906.94) rotate(-90)" x="0" y="0" font-size="73.5" fill="#000" textLength="727.07" lengthAdjust="spacingAndGlyphs">Atomic percentage (%)</text>
<text transform="translate(2426.60,982.54) rotate(-90)" x="0" y="0" font-size="74" fill="#000" textLength="870.10" lengthAdjust="spacingAndGlyphs">Atomic ratio of K/Na in films</text>
<text x="1282.80" y="1184.50" font-size="60" fill="#000" textLength="1025.44" lengthAdjust="spacingAndGlyphs">Mole ratio of K in annealing powder (%)</text>
<rect x="1520.5" y="113.2" width="242.3" height="226.9" fill="#fff" stroke="#444" stroke-width="1.8"/>
<rect x="1532.3" y="125.2" width="126.7" height="58.3" fill="#c4ecd8" stroke="#111" stroke-width="2.8"/>
<rect x="1532.3" y="197.5" width="126.7" height="59.4" fill="#bcd6f8" stroke="#111" stroke-width="2.8"/>
<rect x="1530.8" y="268.3" width="129.7" height="62.7" fill="#dafea8"/>
<path d="M1532.3,329.5V269.8M1532.3,269.8H1659M1659,269.8V329.5M1659,329.5H1532.3" fill="none" stroke="#1a1a1a" stroke-width="3" stroke-dasharray="17 15"/>
<text x="1677.25" y="174.40" font-size="61" fill="#000" textLength="73.95" lengthAdjust="spacingAndGlyphs">Na</text>
<text x="1677.42" y="246.80" font-size="61" fill="#000" textLength="41.27" lengthAdjust="spacingAndGlyphs">K</text>
<text x="1677.03" y="319.20" font-size="61" fill="#000" textLength="77.52" lengthAdjust="spacingAndGlyphs">Nb</text>
</svg>
</body></html>
